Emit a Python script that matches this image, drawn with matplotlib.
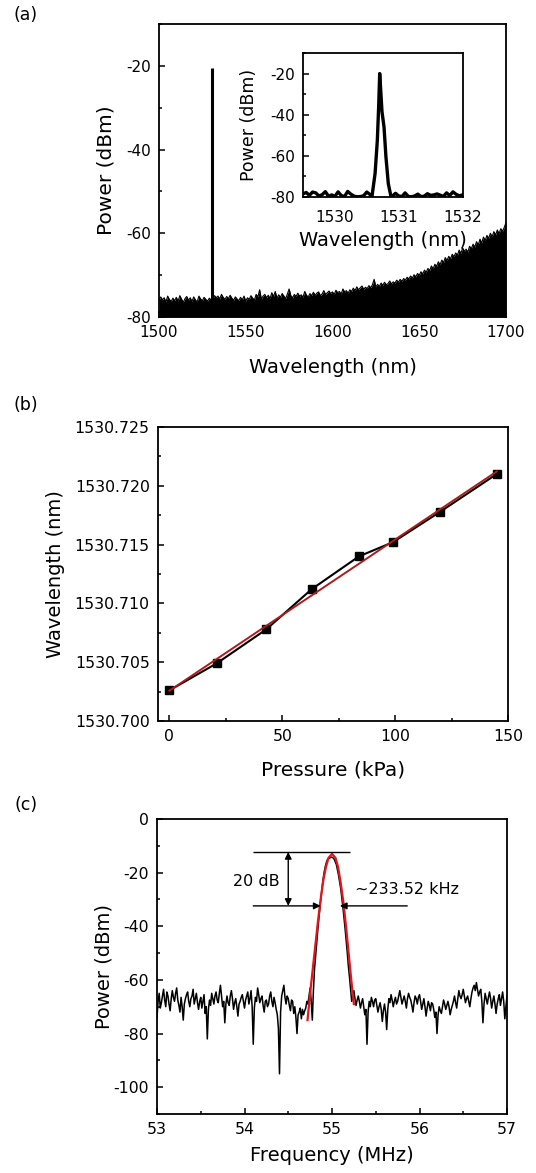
import numpy as np
import matplotlib
matplotlib.use("Agg")
import matplotlib.pyplot as plt
from matplotlib.ticker import MultipleLocator, FormatStrFormatter

plt.rcParams['font.family'] = ['DejaVu Sans']
plt.rcParams['axes.unicode_minus'] = False

# ---------------- data: panel (a) main spectrum (1 nm steps) ----------------
power_a = [-76.0, -75.2, -75.9, -75.4, -76.4, -75.0, -75.8, -76.3, -75.5, -76.1,
           -75.3, -76.2, -74.9, -75.7, -76.5, -75.6, -75.1, -76.0, -75.4, -76.3,
           -75.2, -75.9, -76.4, -75.0, -75.7, -76.1, -75.3, -75.8, -76.2, -75.5,
           -75.9, -75.6, -74.9, -75.4, -75.0, -75.7, -74.6, -75.3, -75.8, -75.1,
           -75.6, -74.8, -75.5, -76.0, -75.2, -75.7, -76.1, -75.3, -75.9, -75.0,
           -76.2, -75.4, -75.8, -74.9, -75.5, -75.9, -74.6, -75.2, -73.5, -75.7,
           -75.0, -74.6, -75.4, -74.8, -75.6, -74.2, -75.1, -73.9, -75.5, -74.7,
           -75.3, -74.4, -75.0, -75.6, -74.5, -73.3, -74.9, -75.4, -74.6, -75.1,
           -74.3, -75.0, -74.7, -75.3, -73.9, -74.8, -75.2, -74.4, -74.9, -74.1,
           -74.8, -74.3, -74.0, -74.9, -74.5, -73.7, -74.6, -74.2, -73.8, -74.4,
           -74.0, -74.6, -73.6, -74.2, -73.9, -74.5, -73.3, -74.0, -73.7, -74.3,
           -73.5, -73.9, -73.1, -73.7, -72.8, -73.5, -73.0, -72.6, -73.4, -72.9,
           -73.2, -72.5, -73.0, -72.3, -71.0, -72.8, -72.2, -72.7, -71.9, -72.4,
           -71.7, -72.3, -72.0, -71.4, -72.1, -71.6, -71.9, -71.2, -71.7, -71.0,
           -71.5, -70.8, -71.2, -70.5, -70.9, -70.2, -70.7, -69.9, -70.4, -69.6,
           -70.0, -69.2, -69.7, -68.8, -69.3, -68.4, -68.9, -67.8, -68.5, -67.4,
           -67.9, -66.8, -67.5, -66.4, -67.0, -65.8, -66.5, -65.5, -66.1, -65.0,
           -65.6, -64.7, -65.2, -64.0, -64.8, -63.5, -64.3, -63.8, -64.5, -63.1,
           -63.7, -62.6, -63.3, -62.0, -62.8, -61.4, -62.3, -60.9, -61.7, -60.5,
           -61.2, -60.0, -60.8, -59.6, -60.4, -59.2, -60.1, -58.9, -59.5, -58.6,
           -57.4]
wl_a = [1500 + i for i in range(len(power_a))]
laser_wl = 1530.7
laser_peak = -20.5

# ---------------- data: panel (a) inset ----------------
wl_in = [1529.50, 1529.55, 1529.60, 1529.65, 1529.70, 1529.75, 1529.80, 1529.85,
         1529.90, 1529.95, 1530.00, 1530.05, 1530.10, 1530.15, 1530.20, 1530.25,
         1530.30, 1530.35, 1530.40, 1530.45, 1530.50, 1530.55, 1530.58, 1530.63,
         1530.665, 1530.686, 1530.702, 1530.718, 1530.738, 1530.77, 1530.80,
         1530.837, 1530.875, 1530.90, 1530.95, 1531.00, 1531.05, 1531.10, 1531.15,
         1531.20, 1531.25, 1531.30, 1531.35, 1531.40, 1531.45, 1531.50, 1531.55,
         1531.60, 1531.65, 1531.70, 1531.75, 1531.80, 1531.85, 1531.90, 1531.95, 1532.00]
power_in = [-78.5, -77.8, -79.2, -77.6, -78.0, -79.5, -78.9, -77.4,
            -79.6, -79.0, -79.7, -77.5, -79.3, -79.8, -77.3, -78.6,
            -79.6, -79.9, -79.8, -79.4, -77.6, -78.8, -80.0, -68.5,
            -52.5, -36.0, -20.0, -28.0, -38.5, -46.0, -60.5,
            -73.5, -79.2, -79.6, -78.2, -79.5, -79.8, -78.0, -79.7,
            -79.9, -79.5, -78.6, -79.8, -79.6, -78.4, -79.2, -79.0,
            -78.5, -79.1, -79.7, -78.0, -79.3, -77.5, -78.7, -79.4, -79.0]

# ---------------- data: panel (b) ----------------
pressure = [0, 21, 43, 63, 84, 99, 120, 145]
wavelength_b = [1530.7026, 1530.7049, 1530.7078, 1530.7112,
                1530.7140, 1530.7152, 1530.7178, 1530.7210]
wl_err = [0.00025, 0.00025, 0.00025, 0.00025, 0.00025, 0.00025, 0.00025, 0.00025]

# ---------------- data: panel (c) ----------------
power_c = [-74.0, -68.0, -65.0, -70.5, -68.5, -66.0, -63.5, -67.5, -70.0, -64.5,
           -66.0, -69.0, -71.5, -67.0, -64.0, -66.5, -68.0, -65.0, -63.0, -67.5,
           -69.5, -72.0, -66.5, -70.0, -75.0, -69.0, -67.0, -65.5, -64.5, -68.0,
           -70.0, -67.0, -66.0, -63.5, -69.0, -67.0, -65.0, -68.5, -71.0, -68.0,
           -66.5, -70.5, -68.0, -65.5, -72.5, -70.0, -82.0, -71.0, -67.5, -69.5,
           -65.0, -67.0, -69.0, -66.0, -64.5, -67.5, -68.5, -65.0, -62.0, -66.0,
           -70.0, -68.0, -76.0, -69.0, -66.0, -68.5, -69.5, -66.0, -64.0, -67.0,
           -71.0, -68.5, -67.0, -70.0, -73.5, -69.0, -68.0, -66.5, -65.5, -68.0,
           -70.5, -67.5, -66.0, -64.5, -69.0, -67.0, -64.0, -70.0, -84.0, -70.5,
           -66.5, -68.0, -63.0, -65.5, -68.5, -67.0, -66.0, -69.5, -72.0, -68.0,
           -67.5, -70.0, -69.0, -66.0, -64.5, -68.0, -70.0, -66.5, -68.5, -71.0,
           -73.0, -78.0, -95.0, -72.0, -66.0, -64.0, -62.0, -66.5, -69.0, -66.0,
           -67.0, -69.5, -71.5, -67.5, -68.0, -72.5, -70.0, -74.0, -80.0, -73.0,
           -72.0, -70.5, -74.5, -71.0, -73.0, -71.5, -70.5, -68.0, -69.0, -66.0,
           -63.0, -68.0, -75.0, -64.0, -56.0, -51.0, -46.0, -41.5, -37.0, -33.0,
           -29.0, -25.5, -22.0, -19.5, -17.5, -16.0, -15.0, -14.7, -14.5, -14.3,
           -14.2, -14.5, -15.0, -16.0, -17.0, -19.0, -21.0, -23.5, -26.0, -29.5,
           -33.0, -37.0, -41.0, -45.5, -50.0, -55.0, -59.0, -63.5, -68.0, -66.0,
           -64.0, -67.0, -69.5, -67.5, -66.0, -68.0, -70.5, -68.5, -67.0, -70.0,
           -73.0, -71.0, -84.0, -72.0, -68.0, -70.0, -66.5, -68.0, -70.0, -67.5,
           -67.0, -69.5, -72.0, -70.0, -68.5, -71.0, -75.5, -71.5, -69.0, -72.0,
           -78.5, -71.0, -67.0, -68.5, -65.5, -67.5, -70.0, -68.0, -66.5, -69.0,
           -68.0, -66.0, -64.0, -66.5, -69.0, -67.5, -66.0, -68.0, -70.5, -67.0,
           -65.0, -66.5, -67.5, -69.5, -72.0, -68.5, -66.0, -67.0, -69.0, -66.5,
           -65.5, -68.0, -71.0, -69.0, -67.0, -70.0, -73.5, -70.5, -68.0, -69.5,
           -71.5, -68.5, -69.0, -71.0, -74.0, -72.0, -80.0, -73.0, -70.0, -71.5,
           -72.5, -70.0, -67.5, -69.0, -71.0, -69.5, -68.0, -70.0, -73.0, -71.0,
           -69.5, -68.0, -66.0, -68.5, -70.5, -67.0, -64.0, -66.0, -67.0, -65.5,
           -63.5, -66.0, -68.5, -67.0, -66.0, -68.0, -70.0, -67.0, -64.5, -63.0,
           -62.0, -64.0, -61.0, -63.5, -66.0, -64.5, -63.5, -68.0, -76.0, -69.0,
           -65.0, -67.0, -69.0, -66.5, -64.5, -67.0, -70.5, -68.0, -66.0, -69.0,
           -72.5, -69.0, -67.0, -65.5, -69.5, -67.0, -64.5, -68.0, -74.5, -70.0,
           -66.0]
freq_c = [round(53.0 + 0.0125 * i, 4) for i in range(len(power_c))]
fit_freq = [54.72, 54.76, 54.80, 54.84, 54.87, 54.90, 54.93, 54.96, 55.00,
            55.04, 55.07, 55.10, 55.13, 55.16, 55.19, 55.22, 55.25]
fit_power = [-75.0, -62.0, -50.0, -38.0, -30.0, -23.0, -18.0, -14.5, -13.0,
             -14.5, -18.0, -24.0, -31.0, -40.0, -50.0, -60.0, -69.0]
peak_level = -12.3
level_20db = -32.4
arrow_left = 54.87
arrow_right = 55.09
label_20db = "20 dB"
label_width = "~233.52 kHz"

W, H = 536, 1173
fig = plt.figure(figsize=(W / 100, H / 100), dpi=100)


def box(l, t, r, b):
    return [l / W, 1 - b / H, (r - l) / W, (b - t) / H]


def style(ax, size=11):
    for s in ax.spines.values():
        s.set_linewidth(1.3)
    ax.tick_params(which='both', direction='in', top=False, right=False,
                   labelsize=size, width=1.1, pad=6)
    ax.tick_params(which='major', length=4)
    ax.tick_params(which='minor', length=2.5)


# ---------------- panel (a) ----------------
ax_a = fig.add_axes(box(159, 24, 506, 317))
ax_a.fill_between(wl_a, power_a, -80, color='k', lw=0)
ax_a.plot(wl_a, power_a, color='k', lw=0.8)
ax_a.vlines(laser_wl, -80, laser_peak, color='k', lw=2.2)
ax_a.set_xlim(1500, 1700)
ax_a.set_ylim(-80, -10)
ax_a.xaxis.set_major_locator(MultipleLocator(50))
ax_a.set_yticks([-80, -60, -40, -20])
ax_a.yaxis.set_minor_locator(MultipleLocator(10))
style(ax_a)
ax_a.set_xlabel('Wavelength (nm)', fontsize=14)
ax_a.set_ylabel('Power (dBm)', fontsize=14.5)
ax_a.xaxis.set_label_coords(0.5, -0.14)
ax_a.yaxis.set_label_coords(-0.125, 0.5)

ax_in = fig.add_axes(box(303, 53, 462.5, 197))
ax_in.plot(wl_in, power_in, color='k', lw=2.4, solid_joinstyle='round')
ax_in.set_xlim(1529.5, 1532.0)
ax_in.set_ylim(-80, -10)
ax_in.set_xticks([1530, 1531, 1532])
ax_in.set_yticks([-80, -60, -40, -20])
ax_in.yaxis.set_minor_locator(MultipleLocator(10))
style(ax_in)
ax_in.tick_params(axis='x', which='both', length=0, pad=9)
ax_in.set_xlabel('Wavelength (nm)', fontsize=14)
ax_in.set_ylabel('Power (dBm)', fontsize=12.5)
ax_in.xaxis.set_label_coords(0.5, -0.235)
ax_in.yaxis.set_label_coords(-0.28, 0.5)

# ---------------- panel (b) ----------------
ax_b = fig.add_axes(box(158, 427, 508, 721))
ax_b.errorbar(pressure, wavelength_b, yerr=wl_err, fmt='s-', color='k', ms=5.5,
              lw=1.5, ecolor='#8a8a8a', elinewidth=1, capsize=2.5, zorder=3)
coef = np.polyfit(pressure, wavelength_b, 1)
fit_x = [pressure[0], pressure[-1]]
ax_b.plot(fit_x, np.polyval(coef, fit_x), color='#b01a1c', lw=1.4, zorder=4)
ax_b.set_xlim(-5, 150)
ax_b.set_ylim(1530.700, 1530.725)
ax_b.xaxis.set_major_locator(MultipleLocator(50))
ax_b.xaxis.set_minor_locator(MultipleLocator(25))
ax_b.yaxis.set_major_locator(MultipleLocator(0.005))
ax_b.yaxis.set_minor_locator(MultipleLocator(0.0025))
ax_b.yaxis.set_major_formatter(FormatStrFormatter('%.3f'))
style(ax_b, 11.3)
ax_b.set_xlabel('Pressure (kPa)', fontsize=14.5)
ax_b.set_ylabel('Wavelength (nm)', fontsize=14)
ax_b.xaxis.set_label_coords(0.5, -0.135)
ax_b.yaxis.set_label_coords(-0.265, 0.5)

# ---------------- panel (c) ----------------
ax_c = fig.add_axes(box(157, 819, 507, 1114))
ax_c.plot(freq_c, power_c, color='k', lw=1.1)
ax_c.plot(fit_freq, fit_power, color='#e3141c', lw=1.6)
ax_c.set_xlim(53, 57)
ax_c.set_ylim(-110, 0)
ax_c.xaxis.set_major_locator(MultipleLocator(1))
ax_c.xaxis.set_minor_locator(MultipleLocator(0.5))
ax_c.set_yticks([-100, -80, -60, -40, -20, 0])
ax_c.yaxis.set_minor_locator(MultipleLocator(10))
style(ax_c, 11.3)
ax_c.set_xlabel('Frequency (MHz)', fontsize=14)
ax_c.set_ylabel('Power (dBm)', fontsize=14)
ax_c.xaxis.set_label_coords(0.5, -0.11)
ax_c.yaxis.set_label_coords(-0.125, 0.5)

ax_c.hlines(peak_level, 54.10, 55.20, color='k', lw=1)
ax_c.annotate('', xy=(54.50, peak_level), xytext=(54.50, level_20db),
              arrowprops=dict(arrowstyle='<|-|>', color='k', lw=1,
                              mutation_scale=10, shrinkA=0, shrinkB=0))
ax_c.annotate('', xy=(arrow_left, level_20db), xytext=(54.10, level_20db),
              arrowprops=dict(arrowstyle='-|>', color='k', lw=1,
                              mutation_scale=10, shrinkA=0, shrinkB=0))
ax_c.annotate('', xy=(arrow_right, level_20db), xytext=(55.86, level_20db),
              arrowprops=dict(arrowstyle='-|>', color='k', lw=1,
                              mutation_scale=10, shrinkA=0, shrinkB=0))
ax_c.text(54.13, -23.2, label_20db, fontsize=11.5, ha='center', va='center')
ax_c.text(55.86, -26.3, label_width, fontsize=11.5, ha='center', va='center')

# panel labels
for lab, yy in [('(a)', 15), ('(b)', 405), ('(c)', 805)]:
    fig.text(26 / W, 1 - yy / H, lab, fontsize=12.5, ha='center', va='center')

fig.savefig('out.png', dpi=100)
